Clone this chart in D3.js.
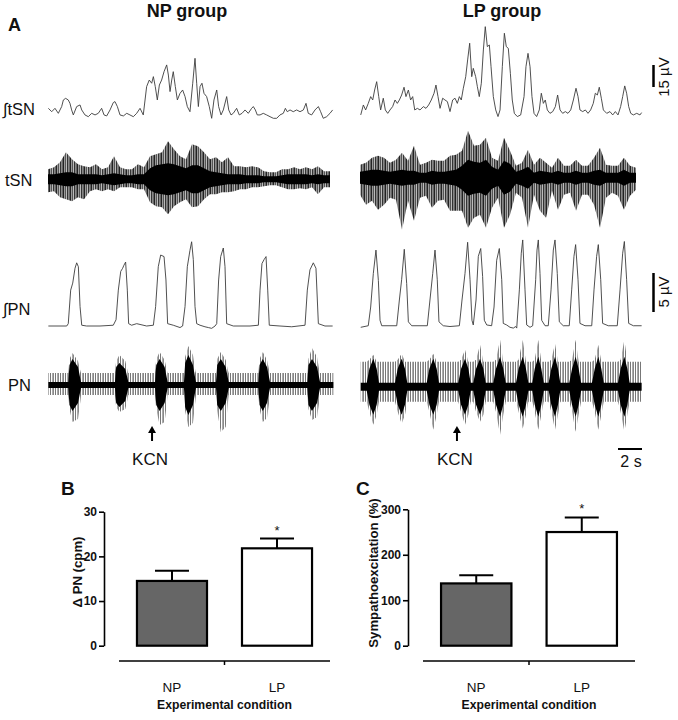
<!DOCTYPE html>
<html><head><meta charset="utf-8">
<script src="https://cdn.jsdelivr.net/npm/d3@7"></script>
<style>body{margin:0;background:#fff} svg{display:block} text{font-family:"Liberation Sans",Arial,sans-serif;fill:#111}</style>
</head><body><svg id="c" width="678" height="720"></svg>
<script>
// ---------- DATA ----------
const groups = ["NP group", "LP group"];
const traceLabels = ["∫tSN", "tSN", "∫PN", "PN"];
const kcnTime = [8.67, 8.08];          // s, KCN injection
const scaleTsn = 15, scalePn = 5, scaleTime = 2; // µV, µV, s

// integrated tSN [t (s), µV]
const itsnNP = [[0.03,6.8],[0.31,4.5],[0.58,6.8],[0.86,3.4],[1.14,8.0],[1.28,12.5],[1.47,13.6],[1.69,12.5],[1.83,10.2],[1.97,5.7],[2.11,2.3],[2.39,8.0],[2.67,9.1],[2.81,5.7],[3.08,2.3],[3.36,1.1],[3.64,3.4],[3.92,2.3],[4.19,3.4],[4.47,6.8],[4.67,2.3],[4.89,1.6],[5.17,5.7],[5.44,10.7],[5.58,11.4],[5.78,8.0],[6.0,2.3],[6.28,1.6],[6.56,3.4],[6.83,2.3],[7.11,1.1],[7.39,3.4],[7.67,6.8],[7.94,2.3],[8.22,21.6],[8.44,26.1],[8.64,23.9],[8.78,28.4],[8.94,21.6],[9.11,12.5],[9.28,22.7],[9.47,26.1],[9.67,31.8],[9.89,36.4],[10.03,29.5],[10.17,18.2],[10.31,26.1],[10.44,31.8],[10.61,21.6],[10.78,12.5],[11.0,17.0],[11.22,19.3],[11.42,14.8],[11.61,8.0],[11.83,4.5],[12.06,23.9],[12.25,40.9],[12.39,23.9],[12.53,8.0],[12.67,21.6],[12.83,23.9],[13.0,17.0],[13.22,14.8],[13.44,8.0],[13.64,0],[13.83,12.5],[14.06,19.3],[14.22,8.0],[14.42,2.3],[14.61,5.7],[14.89,14.8],[15.06,5.7],[15.25,2.3],[15.44,3.4],[15.72,6.8],[15.94,2.3],[16.17,3.4],[16.42,5.7],[16.69,3.4],[16.97,6.8],[17.11,8.0],[17.28,5.7],[17.44,2.3],[17.67,2.3],[17.94,3.4],[18.22,2.3],[18.5,1.1],[18.78,0],[19.06,0],[19.33,2.3],[19.61,3.4],[19.78,6.8],[19.94,4.5],[20.17,5.7],[20.44,4.5],[20.72,5.7],[21.0,4.5],[21.28,5.7],[21.5,10.2],[21.69,3.4],[21.97,2.3],[22.25,5.7],[22.53,8.0],[22.72,4.5],[22.94,0],[23.22,1.1],[23.5,3.4],[23.72,5.7]];
const itsnLP = [[0.06,1.6],[0.28,8.4],[0.47,5.0],[0.69,9.5],[0.89,14.1],[1.06,11.8],[1.22,18.6],[1.39,24.3],[1.56,14.1],[1.72,5.0],[1.94,13.0],[2.11,5.0],[2.31,2.7],[2.5,5.0],[2.72,7.3],[2.92,11.8],[3.11,9.5],[3.28,11.8],[3.47,15.2],[3.67,20.5],[3.83,14.1],[4.03,18.6],[4.22,11.8],[4.39,14.1],[4.56,5.0],[4.78,6.1],[5.0,5.0],[5.28,7.3],[5.5,6.1],[5.72,8.4],[5.94,11.8],[6.17,16.4],[6.33,22.0],[6.5,14.1],[6.67,6.1],[6.89,13.0],[7.08,11.8],[7.28,10.7],[7.5,3.9],[7.72,11.8],[7.92,13.0],[8.11,9.5],[8.28,14.1],[8.44,11.8],[8.61,19.8],[8.81,27.7],[8.97,39.1],[9.14,50.5],[9.31,27.7],[9.44,33.4],[9.64,27.7],[9.78,20.9],[9.94,14.1],[10.11,23.2],[10.28,45.9],[10.44,61.8],[10.61,48.2],[10.78,49.3],[10.92,34.5],[11.11,14.1],[11.31,5.0],[11.5,0.5],[11.67,5.0],[11.86,34.5],[12.03,57.3],[12.19,48.2],[12.36,47.0],[12.53,30.0],[12.69,11.8],[12.86,2.7],[13.11,0.5],[13.39,1.6],[13.67,14.1],[13.83,34.5],[14.0,43.6],[14.17,34.5],[14.33,14.1],[14.5,2.7],[14.72,0.5],[14.94,5.0],[15.11,16.4],[15.28,9.5],[15.44,11.8],[15.61,5.0],[15.83,2.7],[16.06,3.9],[16.28,7.3],[16.47,15.2],[16.67,5.0],[16.89,2.7],[17.11,3.9],[17.33,2.7],[17.56,5.0],[17.78,11.8],[18.0,19.8],[18.17,14.1],[18.33,5.0],[18.56,3.9],[18.78,5.0],[19.0,2.7],[19.22,5.0],[19.44,9.5],[19.61,16.4],[19.78,15.2],[19.94,20.5],[20.11,13.0],[20.28,5.0],[20.56,2.7],[20.83,3.9],[21.06,1.6],[21.28,3.9],[21.5,1.6],[21.72,7.3],[21.89,14.1],[22.06,21.4],[22.22,16.4],[22.39,7.3],[22.56,2.7],[22.78,1.6],[23.06,2.7],[23.33,1.6],[23.47,3.2]];

// raw tSN envelopes, one value every 0.5 s (arbitrary units)
const tsnBin = 0.5;
const tsnNPup   = [10,12,17,27,20,15,13,12,15,10,12,23,12,10,10,15,12,23,25,27,38,30,23,20,35,33,27,20,22,17,22,13,13,12,13,12,8,7,7,10,10,12,10,12,10,13,8,8];
const tsnNPdown = [13,12,18,20,22,18,20,12,10,12,10,12,8,8,8,10,10,23,27,28,35,27,23,20,28,27,20,15,15,13,13,12,10,10,8,8,7,6,6,8,10,10,9,10,8,15,8,8];
const tsnNPcore = [5,5,6,7,7,5,5,5,5,4,5,6,5,4,4,5,5,11,14,15,16,15,13,11,14,14,11,8,7,6,5,5,5,4,4,4,3,3,3,4,5,5,5,5,4,5,4,4];
const tsnLPup   = [13,15,20,22,20,15,18,25,17,32,13,15,18,17,17,22,23,27,47,32,33,40,20,17,40,27,12,15,28,13,20,15,10,20,12,12,18,12,12,20,30,13,12,12,20,12,10];
const tsnLPdown = [17,27,23,32,27,20,22,52,23,43,20,18,30,23,22,33,33,33,50,40,37,50,30,20,50,37,15,20,50,17,33,40,13,32,17,15,33,17,17,27,50,20,15,18,32,18,12];
const tsnLPcore = [6,7,8,8,7,6,7,8,7,7,5,5,7,6,6,7,8,12,18,16,15,18,11,8,17,14,6,8,11,5,7,6,5,7,5,5,7,5,5,7,8,5,5,5,8,5,5];

// integrated PN [t (s), µV]
const ipnNP = [[0.03,0],[1.56,0],[1.69,0.3],[1.89,4.6],[2.06,5.5],[2.25,7.4],[2.39,8.1],[2.53,7.6],[2.67,2.5],[2.81,0.1],[3.22,0],[4.33,0],[5.44,0.1],[5.67,0.8],[5.86,4.6],[6.06,7.0],[6.22,7.4],[6.33,7.8],[6.47,8.2],[6.61,4.6],[6.72,0.3],[6.97,0.1],[7.39,0.3],[8.22,0],[8.78,0.1],[8.97,2.5],[9.19,7.6],[9.39,9.1],[9.67,8.9],[9.83,5.9],[9.97,0.3],[10.44,0.1],[11.0,-0.2],[11.22,0],[11.42,2.5],[11.61,7.6],[11.83,9.7],[11.97,10.8],[12.11,8.5],[12.25,2.5],[12.39,0.3],[12.67,0.1],[13.08,-0.1],[13.36,-0.2],[13.64,-0.3],[13.92,0],[14.06,0.3],[14.22,5.9],[14.39,8.9],[14.61,10.0],[14.75,7.6],[14.89,0.3],[15.44,0],[16.83,0],[17.53,0.1],[17.67,4.6],[17.83,8.0],[18.0,8.5],[18.17,8.9],[18.31,4.6],[18.44,0.1],[19.33,0],[20.31,-0.1],[21.42,0.1],[21.61,4.6],[21.83,7.2],[22.11,8.1],[22.33,7.4],[22.53,0.3],[23.08,0],[23.72,0]];
const ipnLP = [[0.06,0],[0.69,0.2],[0.89,2.6],[1.11,6.9],[1.33,9.9],[1.53,6.0],[1.67,0.9],[1.81,0.2],[3.06,0.2],[3.28,3.5],[3.47,6.1],[3.69,10.0],[3.89,5.6],[4.03,0.7],[4.31,0.2],[5.61,0.2],[5.83,3.5],[6.06,6.9],[6.25,9.9],[6.44,6.1],[6.58,0.7],[6.94,0.2],[7.5,0.1],[8.28,0.2],[8.5,3.5],[8.75,6.9],[8.97,10.9],[9.17,6.1],[9.33,0.9],[9.44,0.3],[9.67,3.5],[9.86,9.1],[10.06,10.1],[10.22,6.5],[10.36,0.9],[10.56,0.3],[10.97,0.2],[11.17,2.6],[11.39,8.6],[11.61,10.1],[11.81,6.1],[11.94,0.5],[12.22,0.3],[12.5,0],[12.78,-0.1],[12.97,0.1],[13.06,-0.1],[13.28,4.8],[13.44,9.5],[13.56,11.2],[13.75,4.8],[13.89,0.3],[14.17,0],[14.39,0.2],[14.64,6.1],[14.75,9.9],[14.86,11.2],[15.0,6.9],[15.14,0.9],[15.42,0.2],[15.69,0.2],[15.92,4.8],[16.11,9.9],[16.25,11.2],[16.44,6.9],[16.61,0.7],[16.94,0.2],[17.44,0.2],[17.64,4.8],[17.83,9.1],[17.97,10.6],[18.17,6.1],[18.33,0.5],[18.75,0.2],[19.31,0.2],[19.5,4.8],[19.72,9.1],[19.86,10.6],[20.06,6.1],[20.22,0.5],[20.69,0.2],[21.44,0.2],[21.67,4.8],[21.89,9.5],[22.03,11.0],[22.22,6.1],[22.39,0.5],[22.78,0.2],[23.47,0.2]];

// raw PN envelopes [t (s), up, down, core] (arbitrary units)
const pnNP = [[0.03,12,10,3],
  [1.69,12,10,3],[1.79,26,24,20],[2.04,32,37,26],[2.5,24,34,18],[2.7,14,16,6],[2.75,12,10,3],
  [5.58,12,10,3],[5.68,24,22,18],[5.95,30,27,22],[6.44,24,24,16],[6.64,14,14,6],[6.69,12,10,3],
  [8.92,12,10,3],[9.02,26,24,20],[9.3,33,40,26],[9.72,25,37,18],[9.92,14,16,6],[9.97,12,10,3],
  [11.33,12,10,3],[11.43,28,26,22],[11.7,39,42,30],[12.08,30,38,20],[12.28,14,16,6],[12.33,12,10,3],
  [14.0,12,10,3],[14.1,26,26,20],[14.4,33,47,26],[14.81,25,42,18],[15.01,14,16,6],[15.06,12,10,3],
  [17.53,12,10,3],[17.63,26,24,20],[17.9,33,37,26],[18.25,25,33,18],[18.45,14,16,6],[18.5,12,10,3],
  [21.61,12,10,3],[21.71,26,24,20],[22.0,37,35,26],[22.42,28,32,18],[22.62,14,16,6],[22.67,12,10,3],
  [23.78,12,10,3]];
const pnLP = [[0.06,25,15,4],[0.56,25,15,4],[0.78,27,25,18],[1.11,32,38,28],[1.39,25,28,18],[1.58,25,15,4],[2.92,25,15,4],[3.14,27,25,18],[3.47,33,37,28],[3.75,25,28,18],[3.94,25,15,4],[5.56,25,15,4],[5.78,27,25,18],[6.11,33,43,28],[6.39,25,28,18],[6.58,25,15,4],[8.19,25,15,4],[8.42,27,25,18],[8.75,37,38,28],[9.03,25,28,18],[9.22,25,15,4],[9.44,25,15,4],[9.67,27,25,18],[10.0,42,35,28],[10.28,25,28,18],[10.47,25,15,4],[11.11,25,15,4],[11.33,27,25,18],[11.67,47,48,30],[11.94,25,28,18],[12.14,25,15,4],[13.0,25,15,4],[13.22,27,25,18],[13.56,47,42,30],[13.83,25,28,18],[14.03,25,15,4],[14.36,25,15,4],[14.56,27,25,18],[14.86,47,43,30],[15.11,25,28,18],[15.31,25,15,4],[15.72,25,15,4],[15.94,27,25,18],[16.25,43,43,30],[16.5,25,28,18],[16.69,25,15,4],[17.44,25,15,4],[17.67,27,25,18],[17.97,47,45,30],[18.22,25,28,18],[18.42,25,15,4],[19.33,25,15,4],[19.56,27,25,18],[19.86,42,43,30],[20.11,25,28,18],[20.31,25,15,4],[21.5,25,15,4],[21.72,27,25,18],[22.03,47,45,30],[22.28,25,28,18],[22.47,25,15,4],[23.47,25,15,4]];

// bar charts
const conditions = ["NP", "LP"];
const deltaPN = [14.5, 21.8];
const deltaPNsem = [2.3, 2.2];
const sympatho = [137, 250];
const sympathoSem = [18, 32];
const significant = [false, true];
const ticksB = [0, 10, 20, 30];
const ticksC = [0, 100, 200, 300];

// ---------- DRAW ----------
const svg = d3.select("#c");
const defs = svg.append("defs");
const pT = defs.append("pattern").attr("id","patT").attr("patternUnits","userSpaceOnUse")
  .attr("width",7).attr("height",40);
[[0,"#222"],[1,"#9a9a9a"],[2,"#555"],[3,"#bbb"],[4,"#333"],[5,"#888"],[6,"#666"]].forEach(c=>
  pT.append("rect").attr("x",c[0]).attr("width",1).attr("height",40).attr("fill",c[1]));
const pP = defs.append("pattern").attr("id","patP").attr("patternUnits","userSpaceOnUse")
  .attr("width",5).attr("height",40);
[[0,"#777"],[2,"#aaa"],[3,"#888"]].forEach(c=>
  pP.append("rect").attr("x",c[0]).attr("width",1).attr("height",40).attr("fill",c[1]));

const xS = [d3.scaleLinear().domain([0,24]).range([48,336]),
            d3.scaleLinear().domain([0,24]).range([360,648])];
const yItsn = [d3.scaleLinear().domain([0,15]).range([118.3,96.3]),
               d3.scaleLinear().domain([0,15]).range([117.3,95.3])];
const yTsn = [d3.scaleLinear().domain([-10,10]).range([189.3,169.3]),
              d3.scaleLinear().domain([-10,10]).range([187.7,167.7])];
const yIpn = [d3.scaleLinear().domain([0,5]).range([326,287]),
              d3.scaleLinear().domain([0,5]).range([327.3,288.3])];
const yPn = [d3.scaleLinear().domain([-10,10]).range([395,375]),
             d3.scaleLinear().domain([-10,10]).range([396.7,376.7])];

// titles
svg.append("text").attr("x",8).attr("y",31).attr("font-size",18).attr("font-weight","bold").text("A");
[187, 502].forEach((cx,i)=>svg.append("text").attr("x",cx).attr("y",17).attr("text-anchor","middle")
  .attr("font-size",18).attr("font-weight","bold").text(groups[i]));

// row labels
[[3,115],[5,186],[3,315],[8,391]].forEach((p,i)=>svg.append("text").attr("x",p[0]).attr("y",p[1])
  .attr("font-size",16.5).text(traceLabels[i]));

const intTraces = [[itsnNP, itsnLP, yItsn], [ipnNP, ipnLP, yIpn]];
intTraces.forEach(([a,b,ys])=>{
  [a,b].forEach((data,g)=>{
    const line = d3.line().x(d=>xS[g](d[0])).y(d=>ys[g](d[1]));
    svg.append("path").datum(data).attr("d",line).attr("fill","none")
      .attr("stroke","#3c3c3c").attr("stroke-width",0.9).attr("stroke-linejoin","round");
  });
});

// raw tSN
[[tsnNPup,tsnNPdown,tsnNPcore],[tsnLPup,tsnLPdown,tsnLPcore]].forEach((arr,g)=>{
  const rows = arr[0].map((u,i)=>({t:i*tsnBin, up:u, dn:arr[1][i], core:arr[2][i]}));
  const x = xS[g], y = yTsn[g];
  svg.append("path").datum(rows).attr("fill","url(#patT)")
    .attr("d", d3.area().x(d=>x(d.t)).y0(d=>y(-d.dn)).y1(d=>y(d.up)));
  svg.append("path").datum(rows).attr("fill","#000")
    .attr("d", d3.area().x(d=>x(d.t)).y0(d=>y(-d.core)).y1(d=>y(d.core)));
});

// raw PN
[pnNP, pnLP].forEach((data,g)=>{
  const x = xS[g], y = yPn[g];
  svg.append("path").datum(data).attr("fill","url(#patP)")
    .attr("d", d3.area().x(d=>x(d[0])).y0(d=>y(-d[2])).y1(d=>y(d[1])));
  svg.append("path").datum(data).attr("fill","#000")
    .attr("d", d3.area().x(d=>x(d[0])).y0(d=>y(-d[3])).y1(d=>y(d[3])));
});

// KCN arrows
kcnTime.forEach((t,g)=>{
  const ax = xS[g](t);
  svg.append("line").attr("x1",ax).attr("x2",ax).attr("y1",431).attr("y2",441)
    .attr("stroke","#000").attr("stroke-width",2);
  svg.append("path").attr("d",`M${ax},${426}L${ax-4},${433}L${ax+4},${433}Z`).attr("fill","#000");
  svg.append("text").attr("x",ax-2).attr("y",465).attr("text-anchor","middle")
    .attr("font-size",17).text("KCN");
});

// scale bars
const sbx = 653.5;
svg.append("line").attr("x1",sbx).attr("x2",sbx).attr("y1",65)
  .attr("y2",65 + (yItsn[1](0)-yItsn[1](scaleTsn))).attr("stroke","#000").attr("stroke-width",2.5);
svg.append("text").attr("transform","translate(669,77) rotate(-90)").attr("text-anchor","middle")
  .attr("font-size",15).text(scaleTsn+" µV");
svg.append("line").attr("x1",sbx).attr("x2",sbx).attr("y1",273)
  .attr("y2",273 + (yIpn[1](0)-yIpn[1](scalePn))).attr("stroke","#000").attr("stroke-width",2.5);
svg.append("text").attr("transform","translate(669,292) rotate(-90)").attr("text-anchor","middle")
  .attr("font-size",15).text(scalePn+" µV");
const tbx0 = 618;
svg.append("line").attr("x1",tbx0).attr("x2",tbx0 + xS[1](scaleTime)-xS[1](0)).attr("y1",449).attr("y2",449)
  .attr("stroke","#000").attr("stroke-width",2);
svg.append("text").attr("x",631).attr("y",467).attr("text-anchor","middle").attr("font-size",16).text(scaleTime+" s");

// ---------- bar charts ----------
function barChart(opts){
  const {letter, lx, ly, values, sems, ticks, yTop, axisX, xRange, yLabel, yLabelX, yLabelY} = opts;
  const y = d3.scaleLinear().domain([0, ticks[ticks.length-1]]).range([645.7, yTop]);
  const x = d3.scaleBand().domain(conditions).range(xRange).paddingInner(0.333).paddingOuter(0.171);
  svg.append("text").attr("x",lx).attr("y",ly).attr("font-size",19).attr("font-weight","bold").text(letter);
  const ax = svg.append("g").attr("transform",`translate(${axisX},0)`)
    .call(d3.axisLeft(y).tickValues(ticks).tickSize(5).tickPadding(2).tickSizeOuter(0));
  ax.select(".domain").attr("stroke","#000").attr("stroke-width",1.6);
  ax.selectAll(".tick line").attr("stroke","#000").attr("stroke-width",1.6);
  ax.selectAll(".tick text").attr("font-size",12).attr("font-weight","bold")
    .attr("font-family","Liberation Sans, Arial, sans-serif").attr("fill","#111");
  conditions.forEach((c,i)=>{
    const cx = x(c) + x.bandwidth()/2;
    svg.append("line").attr("x1",cx).attr("x2",cx).attr("y1",y(values[i])).attr("y2",y(values[i]+sems[i]))
      .attr("stroke","#000").attr("stroke-width",2);
    svg.append("line").attr("x1",cx-17).attr("x2",cx+17).attr("y1",y(values[i]+sems[i])).attr("y2",y(values[i]+sems[i]))
      .attr("stroke","#000").attr("stroke-width",2);
    if (significant[i]) svg.append("text").attr("x",cx).attr("y",y(values[i]+sems[i])-4)
      .attr("text-anchor","middle").attr("font-size",13).text("*");
  });
  svg.selectAll(null).data(conditions).enter().append("rect")
    .attr("x",c=>x(c)).attr("width",x.bandwidth())
    .attr("y",(c,i)=>y(values[i])).attr("height",(c,i)=>y(0)-y(values[i]))
    .attr("fill",(c,i)=>i===0?"#666":"#fff").attr("stroke","#000").attr("stroke-width",2.2);
  const xr = x.range();
  svg.append("line").attr("x1",xr[0]).attr("x2",xr[1]).attr("y1",661).attr("y2",661)
    .attr("stroke","#000").attr("stroke-width",1.5);
  const mid = (xr[0]+xr[1])/2;
  svg.append("line").attr("x1",mid).attr("x2",mid).attr("y1",661).attr("y2",665)
    .attr("stroke","#000").attr("stroke-width",1.5);
  conditions.forEach(c=>svg.append("text").attr("x",x(c)+x.bandwidth()/2).attr("y",692)
    .attr("text-anchor","middle").attr("font-size",13.5).text(c));
  svg.append("text").attr("x",mid).attr("y",709).attr("text-anchor","middle")
    .attr("font-size",12.2).attr("font-weight","bold").text("Experimental condition");
  svg.append("text").attr("transform",`translate(${yLabelX},${yLabelY}) rotate(-90)`)
    .attr("text-anchor","middle").attr("font-size",13.2).attr("font-weight","bold").text(yLabel);
}
barChart({letter:"B", lx:61, ly:495, values:deltaPN, sems:deltaPNsem, ticks:ticksB, yTop:511.7,
  axisX:104, xRange:[119,330], yLabel:"Δ PN (cpm)", yLabelX:82, yLabelY:572});
barChart({letter:"C", lx:356, ly:495, values:sympatho, sems:sympathoSem, ticks:ticksC, yTop:509.3,
  axisX:408, xRange:[423,635], yLabel:"Sympathoexcitation (%)", yLabelX:378, yLabelY:573});
</script></body></html>
